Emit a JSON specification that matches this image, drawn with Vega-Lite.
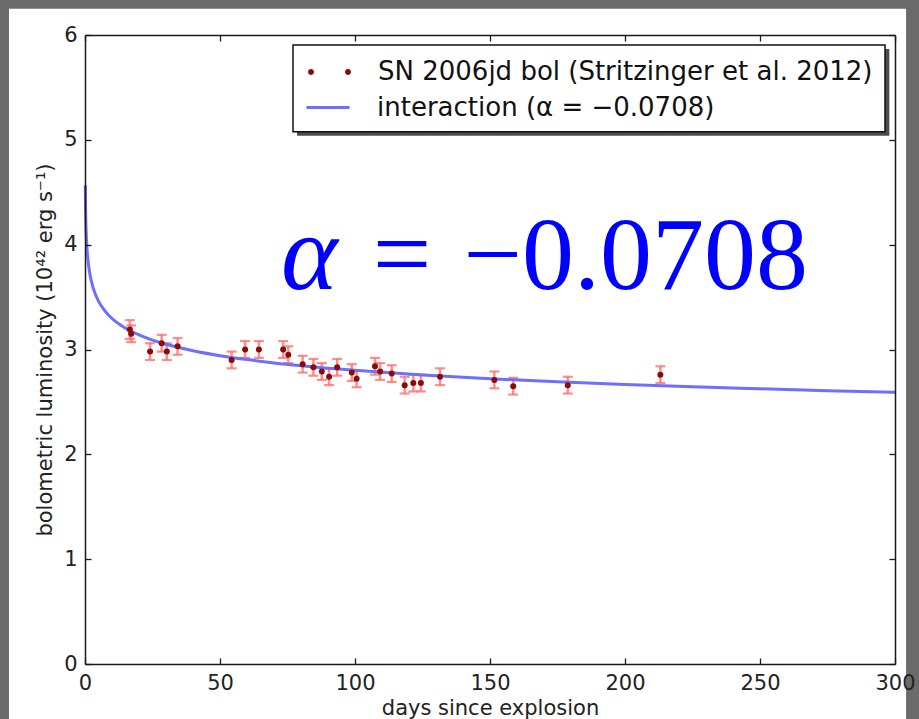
{
  "$schema": "https://vega.github.io/schema/vega-lite/v6.json",
  "width": 810,
  "height": 629,
  "autosize": {"type": "none"},
  "padding": {"left": 85, "top": 35, "right": 24, "bottom": 55},
  "background": "#6b6b6b",
  "config": {
    "view": {"stroke": null},
    "font": "DejaVu Sans",
    "axis": {
      "grid": false,
      "domainColor": "#1a1a1a",
      "domainWidth": 1.5,
      "tickColor": "#1a1a1a",
      "tickWidth": 1.3,
      "tickSize": -6,
      "labelFont": "DejaVu Sans",
      "labelFontSize": 21,
      "labelColor": "#222222",
      "labelFlush": false,
      "labelOverlap": false,
      "titleFont": "DejaVu Sans",
      "titleFontSize": 21,
      "titleFontWeight": "normal",
      "titleColor": "#222222"
    }
  },
  "datasets": {
    "sn": [
      {"day": 16.6, "L": 3.19, "lo": 3.10, "hi": 3.28},
      {"day": 17.1, "L": 3.15, "lo": 3.07, "hi": 3.23},
      {"day": 24.1, "L": 2.98, "lo": 2.90, "hi": 3.06},
      {"day": 28.4, "L": 3.06, "lo": 2.98, "hi": 3.14},
      {"day": 30.3, "L": 2.98, "lo": 2.90, "hi": 3.06},
      {"day": 34.3, "L": 3.03, "lo": 2.95, "hi": 3.11},
      {"day": 54.3, "L": 2.90, "lo": 2.82, "hi": 2.98},
      {"day": 59.3, "L": 3.00, "lo": 2.92, "hi": 3.08},
      {"day": 64.4, "L": 3.00, "lo": 2.92, "hi": 3.08},
      {"day": 73.4, "L": 3.00, "lo": 2.92, "hi": 3.08},
      {"day": 75.3, "L": 2.95, "lo": 2.87, "hi": 3.03},
      {"day": 80.6, "L": 2.86, "lo": 2.78, "hi": 2.94},
      {"day": 84.6, "L": 2.83, "lo": 2.75, "hi": 2.91},
      {"day": 87.7, "L": 2.79, "lo": 2.71, "hi": 2.87},
      {"day": 90.4, "L": 2.74, "lo": 2.66, "hi": 2.82},
      {"day": 93.4, "L": 2.83, "lo": 2.75, "hi": 2.91},
      {"day": 98.8, "L": 2.78, "lo": 2.70, "hi": 2.86},
      {"day": 100.6, "L": 2.72, "lo": 2.64, "hi": 2.80},
      {"day": 107.4, "L": 2.84, "lo": 2.76, "hi": 2.92},
      {"day": 109.3, "L": 2.79, "lo": 2.71, "hi": 2.87},
      {"day": 113.6, "L": 2.77, "lo": 2.69, "hi": 2.85},
      {"day": 118.4, "L": 2.66, "lo": 2.58, "hi": 2.74},
      {"day": 121.6, "L": 2.68, "lo": 2.60, "hi": 2.76},
      {"day": 124.4, "L": 2.68, "lo": 2.60, "hi": 2.76},
      {"day": 131.5, "L": 2.74, "lo": 2.66, "hi": 2.82},
      {"day": 151.6, "L": 2.71, "lo": 2.63, "hi": 2.79},
      {"day": 158.6, "L": 2.65, "lo": 2.57, "hi": 2.73},
      {"day": 178.8, "L": 2.66, "lo": 2.58, "hi": 2.74},
      {"day": 213.1, "L": 2.76, "lo": 2.68, "hi": 2.84}
    ],
    "model": [
      {"t": 0.1, "L": 4.567},
      {"t": 0.2, "L": 4.348},
      {"t": 0.3, "L": 4.225},
      {"t": 0.5, "L": 4.075},
      {"t": 0.7, "L": 3.979},
      {"t": 1, "L": 3.88},
      {"t": 1.5, "L": 3.77},
      {"t": 2, "L": 3.694},
      {"t": 3, "L": 3.59},
      {"t": 4, "L": 3.517},
      {"t": 5, "L": 3.462},
      {"t": 7, "L": 3.381},
      {"t": 10, "L": 3.296},
      {"t": 13, "L": 3.236},
      {"t": 16, "L": 3.188},
      {"t": 20, "L": 3.139},
      {"t": 25, "L": 3.089},
      {"t": 30, "L": 3.05},
      {"t": 40, "L": 2.988},
      {"t": 50, "L": 2.941},
      {"t": 60, "L": 2.904},
      {"t": 70, "L": 2.872},
      {"t": 80, "L": 2.845},
      {"t": 100, "L": 2.801},
      {"t": 125, "L": 2.757},
      {"t": 150, "L": 2.721},
      {"t": 175, "L": 2.692},
      {"t": 200, "L": 2.666},
      {"t": 225, "L": 2.644},
      {"t": 250, "L": 2.625},
      {"t": 275, "L": 2.607},
      {"t": 300, "L": 2.591}
    ]
  },
  "layer": [
    {
      "data": {"values": [{"panel": "figure"}]},
      "mark": {"type": "rect", "fill": "white"},
      "encoding": {
        "x": {"datum": -28.15, "type": "quantitative", "scale": {"domain": [0, 300], "nice": false, "zero": false},
              "axis": {"orient": "top", "values": [0, 50, 100, 150, 200, 250, 300], "labels": false, "title": null, "zindex": 2}},
        "x2": {"datum": 304.1},
        "y": {"datum": 6.25, "type": "quantitative", "scale": {"domain": [0, 6], "nice": false},
              "axis": {"orient": "right", "values": [0, 1, 2, 3, 4, 5, 6], "labels": false, "title": null, "zindex": 2}},
        "y2": {"datum": -0.53}
      }
    },
    {
      "data": {"values": [{"panel": "legend shadow"}]},
      "mark": {"type": "rect", "fill": "#2e2e2e", "opacity": 0.85},
      "encoding": {
        "x": {"datum": 78.5, "type": "quantitative", "axis": null},
        "x2": {"datum": 297.9},
        "y": {"datum": 5.867, "type": "quantitative", "axis": null},
        "y2": {"datum": 5.04}
      }
    },
    {
      "data": {"values": [{"panel": "legend box"}]},
      "mark": {"type": "rect", "fill": "white", "stroke": "#111111", "strokeWidth": 1.5},
      "encoding": {
        "x": {"datum": 77.04, "type": "quantitative", "axis": null},
        "x2": {"datum": 296.3},
        "y": {"datum": 5.905, "type": "quantitative", "axis": null},
        "y2": {"datum": 5.077}
      }
    },
    {
      "data": {"name": "sn"},
      "mark": {"type": "errorbar", "ticks": {"size": 10, "thickness": 2.2, "color": "#ff7070", "opacity": 0.8}, "rule": {"strokeWidth": 2.5, "color": "#ff7070", "opacity": 0.8}},
      "encoding": {
        "x": {"field": "day", "type": "quantitative", "axis": null},
        "y": {"field": "lo", "type": "quantitative", "axis": null},
        "y2": {"field": "hi"}
      }
    },
    {
      "data": {"name": "model"},
      "mark": {"type": "line", "strokeWidth": 3, "interpolate": "monotone"},
      "encoding": {
        "x": {"field": "t", "type": "quantitative", "axis": null},
        "y": {"field": "L", "type": "quantitative", "axis": null},
        "stroke": {"datum": "interaction (α = −0.0708)", "type": "nominal",
          "scale": {"domain": ["interaction (α = −0.0708)"], "range": ["#6e6eff"]},
          "legend": {
            "orient": "none", "legendX": 220, "legendY": 49.5, "title": null, "padding": 0,
            "labelFontSize": 26, "labelFont": "DejaVu Sans", "labelColor": "#111111", "labelLimit": 0,
            "symbolType": "stroke", "symbolSize": 1849, "symbolStrokeWidth": 3, "labelOffset": 26, "zindex": 3
          }
        }
      }
    },
    {
      "data": {"name": "sn"},
      "mark": {"type": "point", "filled": true, "size": 36, "opacity": 1},
      "encoding": {
        "x": {"field": "day", "type": "quantitative",
              "axis": {"orient": "bottom", "values": [0, 50, 100, 150, 200, 250, 300], "title": "days since explosion", "titlePadding": 4, "labelPadding": 14, "zindex": 2}},
        "y": {"field": "L", "type": "quantitative",
              "axis": {"orient": "left", "values": [0, 1, 2, 3, 4, 5, 6], "title": "bolometric luminosity (10⁴² erg s⁻¹)", "titlePadding": 8, "labelPadding": 14, "zindex": 2}},
        "color": {"datum": "SN 2006jd bol (Stritzinger et al. 2012)", "type": "nominal",
          "scale": {"domain": ["SN 2006jd bol (Stritzinger et al. 2012)"], "range": ["#8b0a0a"]},
          "legend": {
            "orient": "none", "legendX": 231.5, "legendY": 24, "title": null, "padding": 0,
            "labelFontSize": 26, "labelFont": "DejaVu Sans", "labelColor": "#111111", "labelLimit": 0,
            "symbolType": "M-1.95,0a0.27,0.27 0 1,0 0.54,0a0.27,0.27 0 1,0 -0.54,0M1.41,0a0.27,0.27 0 1,0 0.54,0a0.27,0.27 0 1,0 -0.54,0",
            "symbolSize": 484, "symbolStrokeWidth": 0, "labelOffset": 35.5, "zindex": 3
          }
        }
      }
    },
    {
      "data": {"values": [{"part": "α"}]},
      "mark": {"type": "text", "font": "Liberation Serif", "fontStyle": "italic", "fontSize": 108, "color": "#0000ff", "align": "left", "baseline": "alphabetic"},
      "encoding": {
        "text": {"field": "part"},
        "x": {"datum": 72.6, "type": "quantitative", "axis": null},
        "y": {"datum": 3.575, "type": "quantitative", "axis": null}
      }
    },
    {
      "data": {"values": [{"part": "="}]},
      "mark": {"type": "text", "font": "Liberation Serif", "fontSize": 104, "color": "#0000ff", "align": "center", "baseline": "alphabetic"},
      "encoding": {
        "text": {"field": "part"},
        "x": {"datum": 117.4, "type": "quantitative", "axis": null},
        "y": {"datum": 3.575, "type": "quantitative", "axis": null}
      }
    },
    {
      "data": {"values": [{"part": "−0.0708"}]},
      "mark": {"type": "text", "font": "Liberation Serif", "fontSize": 104, "color": "#0000ff", "align": "right", "baseline": "alphabetic"},
      "encoding": {
        "text": {"field": "part"},
        "x": {"datum": 267.8, "type": "quantitative", "axis": null},
        "y": {"datum": 3.575, "type": "quantitative", "axis": null}
      }
    }
  ],
  "resolve": {"axis": {"x": "independent", "y": "independent"}}
}
